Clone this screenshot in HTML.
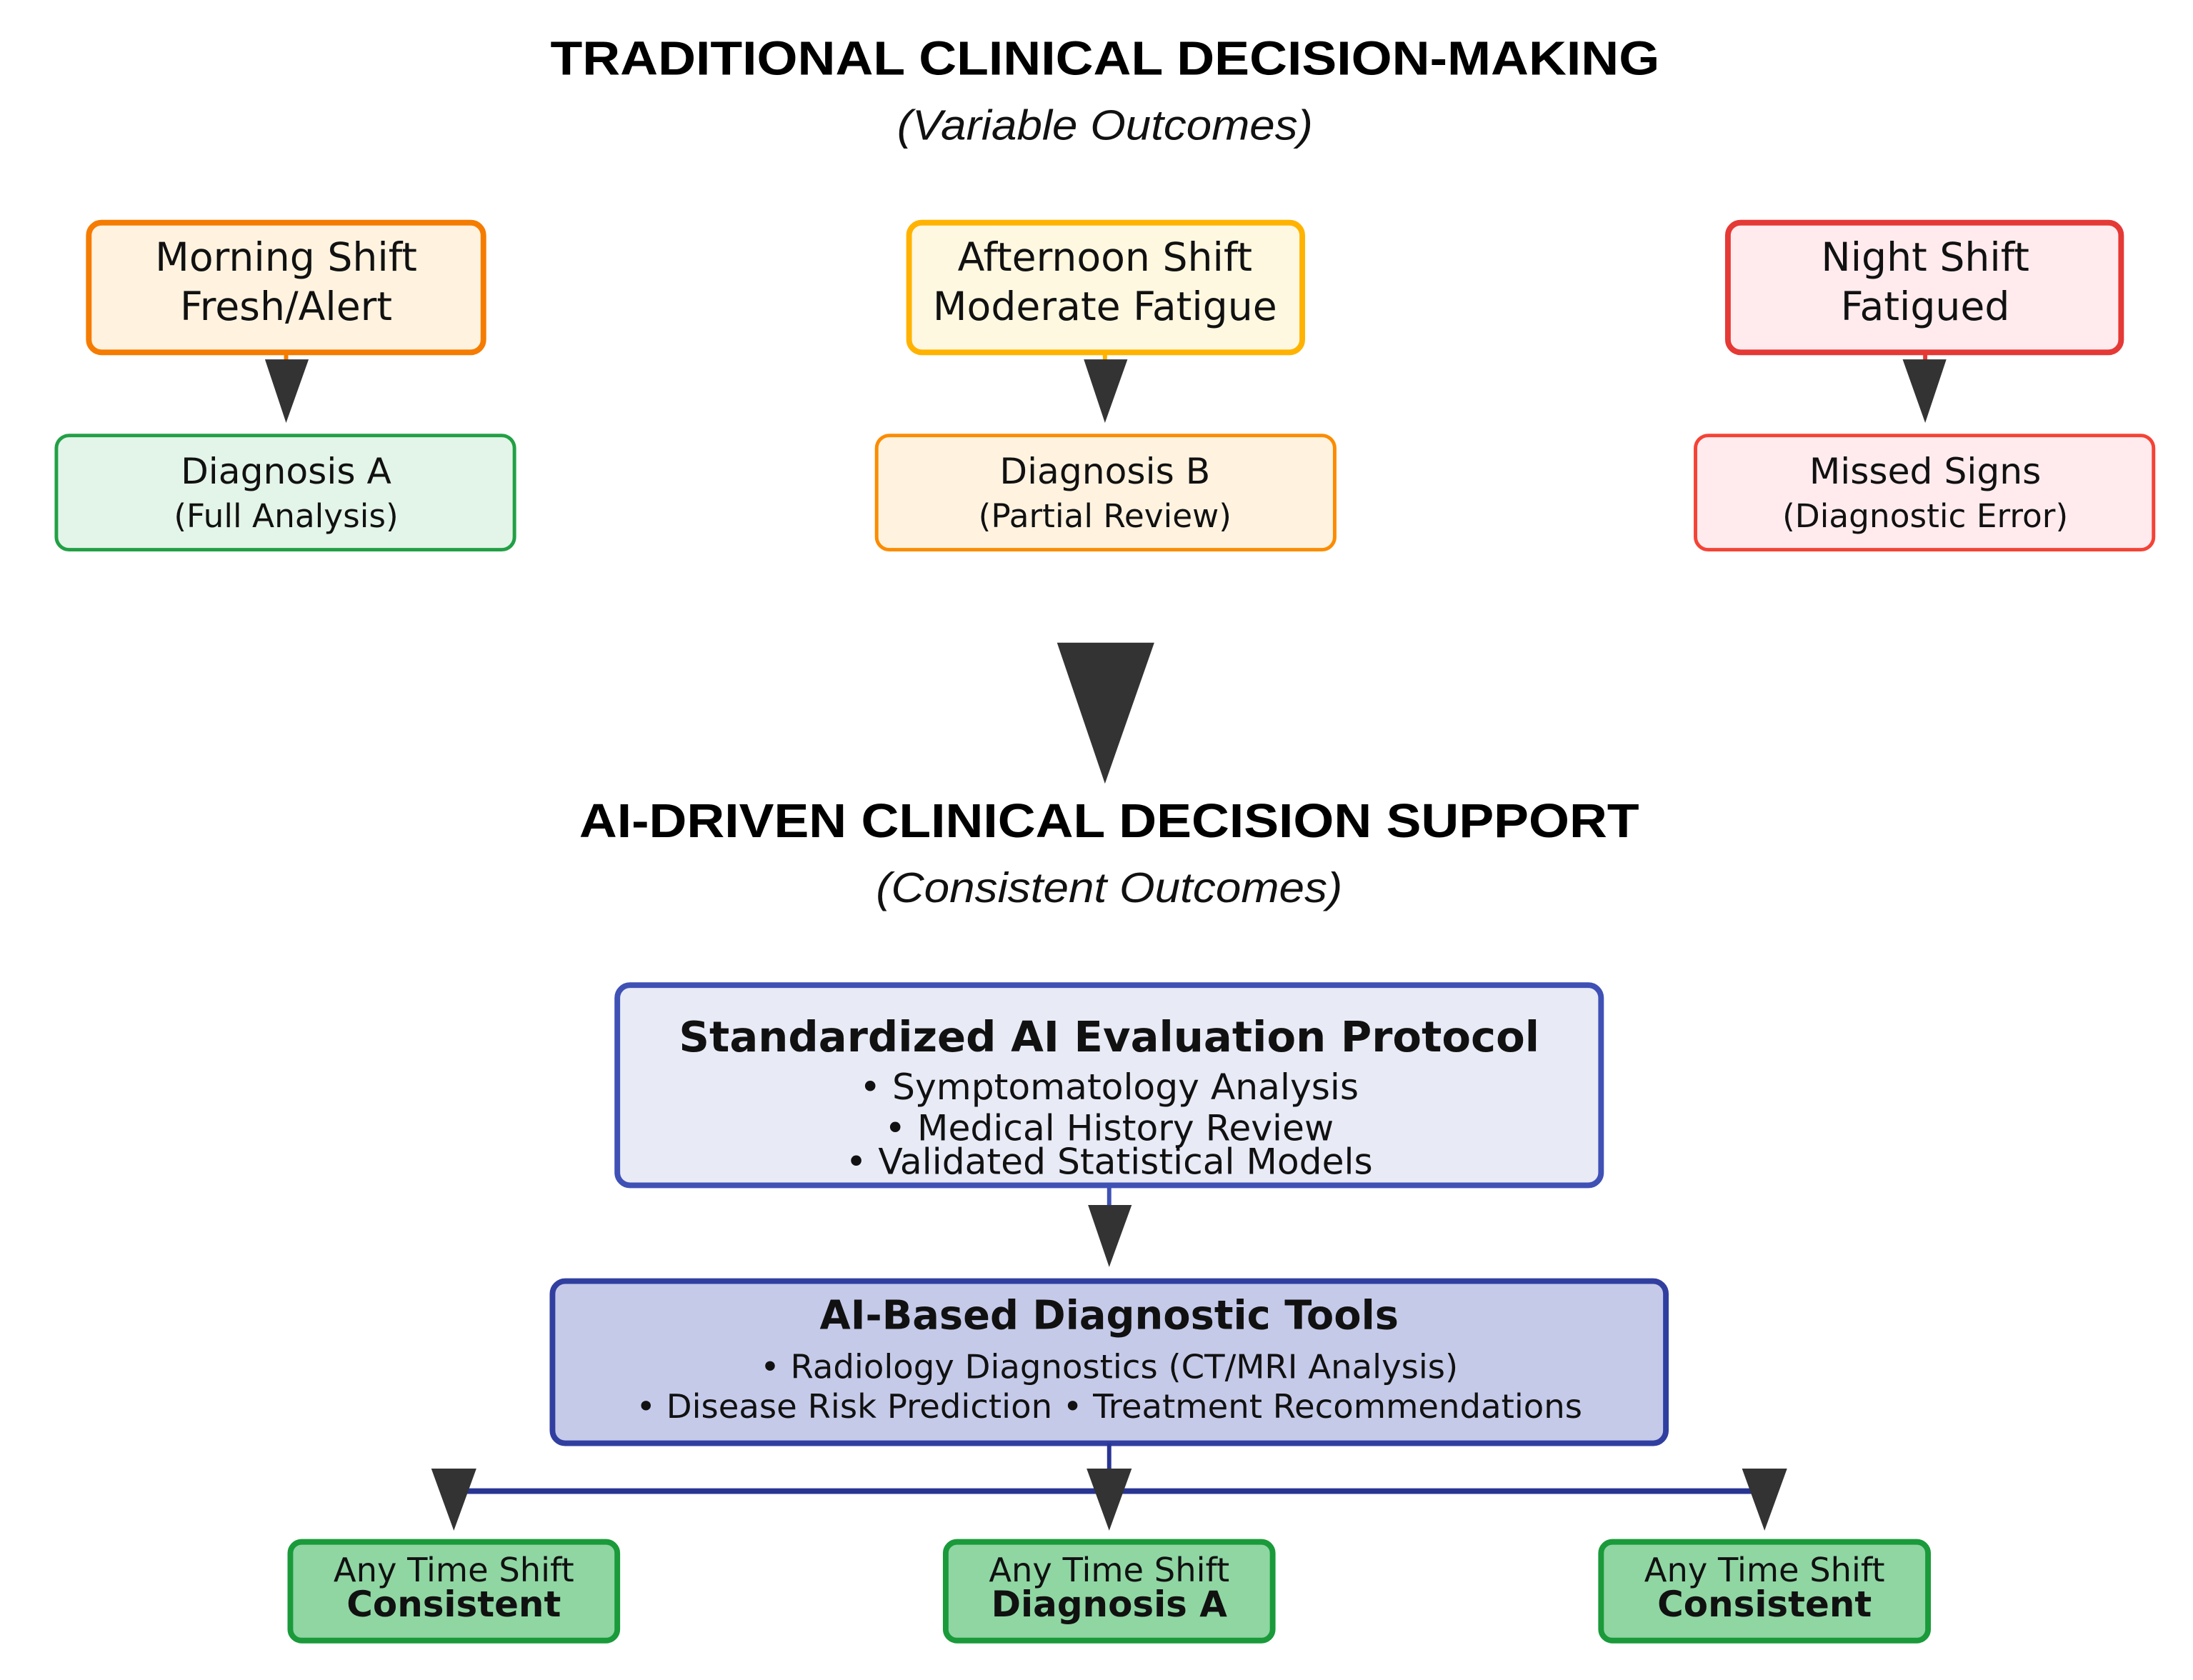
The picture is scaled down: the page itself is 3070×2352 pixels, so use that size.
<!DOCTYPE html>
<html><head><meta charset="utf-8"><style>
html,body{margin:0;padding:0;background:#fff;width:3070px;height:2352px;overflow:hidden}
svg{display:block}
.h{font-family:"Liberation Sans",Arial,sans-serif;font-weight:bold;fill:#000}
.i{font-family:"Liberation Sans",Arial,sans-serif;font-style:italic;fill:#111}
.t{font-family:"DejaVu Sans",Verdana,sans-serif;fill:#111}
</style></head><body>
<svg width="3070" height="2352" viewBox="0 0 1556 1192" preserveAspectRatio="none" xmlns="http://www.w3.org/2000/svg">
<rect width="1556" height="1192" fill="#fff"/>
<text class="h" x="784" y="53" font-size="34" text-anchor="middle" textLength="787" lengthAdjust="spacingAndGlyphs">TRADITIONAL CLINICAL DECISION-MAKING</text>
<text class="i" x="784" y="99" font-size="30" text-anchor="middle" textLength="295" lengthAdjust="spacingAndGlyphs">(Variable Outcomes)</text>

<rect x="63" y="158" width="280" height="92" rx="9" fill="#fff3e0" stroke="#f57c00" stroke-width="4"/>
<rect x="645" y="158" width="279" height="92" rx="9" fill="#fff8e1" stroke="#ffb300" stroke-width="4"/>
<rect x="1226" y="158" width="279" height="92" rx="9" fill="#ffebee" stroke="#e53935" stroke-width="4"/>
<g class="t" font-size="28" text-anchor="middle">
<text x="203" y="192">Morning Shift</text><text x="203" y="227">Fresh/Alert</text>
<text x="784" y="192">Afternoon Shift</text><text x="784" y="227">Moderate Fatigue</text>
<text x="1366" y="192">Night Shift</text><text x="1366" y="227">Fatigued</text>
</g>
<g fill="#333">
<line x1="203" y1="250" x2="203" y2="256" stroke="#f57c00" stroke-width="3"/>
<line x1="784" y1="250" x2="784" y2="256" stroke="#ffb300" stroke-width="3"/>
<line x1="1366" y1="250" x2="1366" y2="256" stroke="#e53935" stroke-width="3"/>
<polygon points="188,255 219,255 203,300"/>
<polygon points="769,255 800,255 784,300"/>
<polygon points="1350,255 1381,255 1366,300"/>
</g>
<rect x="40" y="309" width="325" height="81" rx="9" fill="#e3f4e8" stroke="#22a045" stroke-width="2.5"/>
<rect x="622" y="309" width="325" height="81" rx="9" fill="#fff3e0" stroke="#fb8c00" stroke-width="2.5"/>
<rect x="1203" y="309" width="325" height="81" rx="9" fill="#ffebee" stroke="#f44336" stroke-width="2.5"/>
<g class="t" text-anchor="middle">
<text x="203" y="343" font-size="25.5">Diagnosis A</text><text x="203" y="374" font-size="23">(Full Analysis)</text>
<text x="784" y="343" font-size="25.5">Diagnosis B</text><text x="784" y="374" font-size="23">(Partial Review)</text>
<text x="1366" y="343" font-size="25.5">Missed Signs</text><text x="1366" y="374" font-size="23">(Diagnostic Error)</text>
</g>
<polygon points="750,456 819,456 784,556" fill="#333"/>

<text class="h" x="787" y="594" font-size="34" text-anchor="middle" textLength="752" lengthAdjust="spacingAndGlyphs">AI-DRIVEN CLINICAL DECISION SUPPORT</text>
<text class="i" x="787" y="640" font-size="30" text-anchor="middle" textLength="331" lengthAdjust="spacingAndGlyphs">(Consistent Outcomes)</text>

<rect x="438" y="699" width="698" height="142" rx="9" fill="#e8eaf6" stroke="#3f51b5" stroke-width="4"/>
<g class="t" text-anchor="middle">
<text x="787" y="746" font-size="30" font-weight="bold">Standardized AI Evaluation Protocol</text>
<text x="787" y="780" font-size="25.5">• Symptomatology Analysis</text>
<text x="787" y="809" font-size="25.5">• Medical History Review</text>
<text x="787" y="833" font-size="25.5">• Validated Statistical Models</text>
</g>
<line x1="787" y1="841" x2="787" y2="856" stroke="#3f51b5" stroke-width="3"/>
<polygon points="772,855 803,855 787,899" fill="#333"/>

<rect x="392" y="909" width="790" height="115" rx="9" fill="#c5cae9" stroke="#303f9f" stroke-width="4"/>
<g class="t" text-anchor="middle">
<text x="787" y="943" font-size="28.3" font-weight="bold">AI-Based Diagnostic Tools</text>
<text x="787" y="978" font-size="23.6">• Radiology Diagnostics (CT/MRI Analysis)</text>
<text x="787" y="1006" font-size="23.6">• Disease Risk Prediction • Treatment Recommendations</text>
</g>
<line x1="787" y1="1024" x2="787" y2="1042" stroke="#283593" stroke-width="3"/>
<line x1="328" y1="1058" x2="1246" y2="1058" stroke="#283593" stroke-width="4"/>
<g fill="#333">
<polygon points="306,1042 338,1042 322,1086"/>
<polygon points="771,1042 803,1042 787,1086"/>
<polygon points="1236,1042 1268,1042 1252,1086"/>
</g>

<rect x="206" y="1094" width="232" height="70" rx="8" fill="#8fd6a3" stroke="#1a9a3a" stroke-width="4"/>
<rect x="671" y="1094" width="232" height="70" rx="8" fill="#8fd6a3" stroke="#1a9a3a" stroke-width="4"/>
<rect x="1136" y="1094" width="232" height="70" rx="8" fill="#8fd6a3" stroke="#1a9a3a" stroke-width="4"/>
<g class="t" text-anchor="middle">
<text x="322" y="1122" font-size="23.5">Any Time Shift</text><text x="322" y="1147" font-size="25.3" font-weight="bold">Consistent</text>
<text x="787" y="1122" font-size="23.5">Any Time Shift</text><text x="787" y="1147" font-size="25.3" font-weight="bold">Diagnosis A</text>
<text x="1252" y="1122" font-size="23.5">Any Time Shift</text><text x="1252" y="1147" font-size="25.3" font-weight="bold">Consistent</text>
</g>
</svg>
</body></html>
